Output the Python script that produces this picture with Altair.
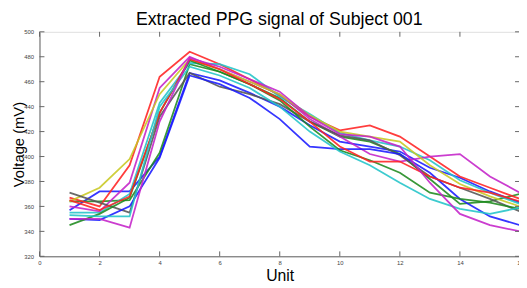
import altair as alt
import pandas as pd

units = list(range(1, 17))
series_names = ["b1", "g1", "r1", "c1", "m1", "y1", "k1", "b2", "g2", "r2", "c2", "m2"]
series_colors = ["#1a1aff", "#1e8a1e", "#ff2222", "#22c4c8", "#c422c8", "#c8c822", "#555555",
                 "#1a1aff", "#1e8a1e", "#ff2222", "#22c4c8", "#c422c8"]

b1 = [357, 372, 372, 400, 467, 461, 451, 440, 425, 412, 408, 404, 391, 383, 372, 363]
g1 = [364, 364, 365, 403, 474, 468, 458, 447, 428, 416, 412, 402, 382, 362, 364, 370]
r1 = [367, 360, 393, 464, 484, 474, 462, 449, 432, 421, 425, 416, 400, 384, 375, 366]
c1 = [355, 355, 370, 443, 475, 474, 466, 448, 434, 419, 413, 408, 397, 381, 371, 362]
m1 = [360, 356, 379, 455, 480, 470, 460, 450, 430, 416, 402, 396, 400, 402, 384, 371]
y1 = [364, 375, 398, 450, 478, 470, 460, 450, 433, 420, 416, 412, 393, 378, 368, 360]
k1 = [371, 363, 355, 432, 467, 456, 450, 442, 428, 417, 413, 401, 384, 375, 366, 356]
b2 = [350, 349, 360, 399, 465, 458, 447, 430, 408, 406, 406, 402, 387, 366, 352, 345]
g2 = [345, 354, 367, 435, 477, 468, 458, 445, 424, 405, 397, 387, 371, 366, 363, 358]
r2 = [365, 357, 368, 435, 478, 470, 458, 446, 428, 408, 396, 396, 384, 375, 371, 364]
c2 = [353, 352, 352, 440, 472, 465, 455, 440, 420, 404, 393, 379, 366, 358, 354, 359]
m2 = [350, 350, 343, 428, 479, 472, 462, 452, 432, 418, 416, 408, 379, 354, 345, 340]

all_series = [b1, g1, r1, c1, m1, y1, k1, b2, g2, r2, c2, m2]

x_ticks = [0, 2, 4, 6, 8, 10, 12, 14, 16]
y_ticks = [320, 340, 360, 380, 400, 420, 440, 460, 480, 500]

rows = []
for i, (name, vals) in enumerate(zip(series_names, all_series)):
    for u, v in zip(units, vals):
        rows.append({"unit": u, "voltage": v, "series": name, "order": i})
df = pd.DataFrame(rows)

W, H = 487, 228
xscale = alt.Scale(domain=[0, 16], range=[0, W + 1], nice=False)
yscale = alt.Scale(domain=[320, 500], nice=False, zero=False)

xaxis = alt.Axis(values=x_ticks, tickSize=0, labelFontSize=6, labelColor="#444",
                 labelPadding=3, domainColor="#666", grid=False, title="Unit",
                 titleFontSize=16, titleFontWeight="normal", titlePadding=3,
                 labelOverlap=False, labelFlush=False,
                 titleColor="#000", labelFont="Liberation Sans", titleFont="Liberation Sans")
yaxis = alt.Axis(values=y_ticks, tickSize=0, labelFontSize=6, labelColor="#444",
                 labelPadding=6, domainColor="#666", grid=False, title="Voltage (mV)",
                 titleFontSize=15, titleFontWeight="normal", titleX=-13, titleY=H / 2,
                 titleBaseline="bottom", labelOverlap=False, labelFlush=False,
                 titleColor="#000", labelFont="Liberation Sans", titleFont="Liberation Sans")

lines = alt.Chart(df).mark_line(strokeWidth=1.8, opacity=0.88, clip=True).encode(
    x=alt.X("unit:Q", scale=xscale, axis=xaxis),
    y=alt.Y("voltage:Q", scale=yscale, axis=yaxis),
    color=alt.Color("series:N", scale=alt.Scale(domain=series_names, range=series_colors), legend=None),
    order=alt.Order("order:Q"),
)

xt = pd.DataFrame({"t": x_ticks})
yt = pd.DataFrame({"t": y_ticks})

bottom_ticks = alt.Chart(xt).mark_rule(color="#666", strokeWidth=1).encode(
    x=alt.X("t:Q", scale=xscale, axis=xaxis), y=alt.value(H), y2=alt.value(H - 5))
top_ticks = alt.Chart(xt).mark_rule(color="#666", strokeWidth=1).encode(
    x=alt.X("t:Q", scale=xscale, axis=xaxis), y=alt.value(0), y2=alt.value(5))
left_ticks = alt.Chart(yt).mark_rule(color="#666", strokeWidth=1).encode(
    y=alt.Y("t:Q", scale=yscale, axis=yaxis), x=alt.value(0), x2=alt.value(5))
right_ticks = alt.Chart(yt).mark_rule(color="#666", strokeWidth=1).encode(
    y=alt.Y("t:Q", scale=yscale, axis=yaxis), x=alt.value(W + 1), x2=alt.value(W - 4))

chart = alt.layer(lines, bottom_ticks, top_ticks, left_ticks, right_ticks).properties(
    width=W, height=H,
    title=alt.TitleParams("Extracted PPG signal of Subject 001", fontSize=18, fontWeight="normal",
                          font="Liberation Sans", color="#000", anchor="middle", offset=0),
    autosize=alt.AutoSizeParams(type="none"),
    padding={"left": 32, "top": 22, "right": 0, "bottom": 30},
).configure_view(stroke="#666", strokeWidth=1).configure(background="white")

chart.save("out.html", embed_options={"renderer": "svg", "actions": False})
